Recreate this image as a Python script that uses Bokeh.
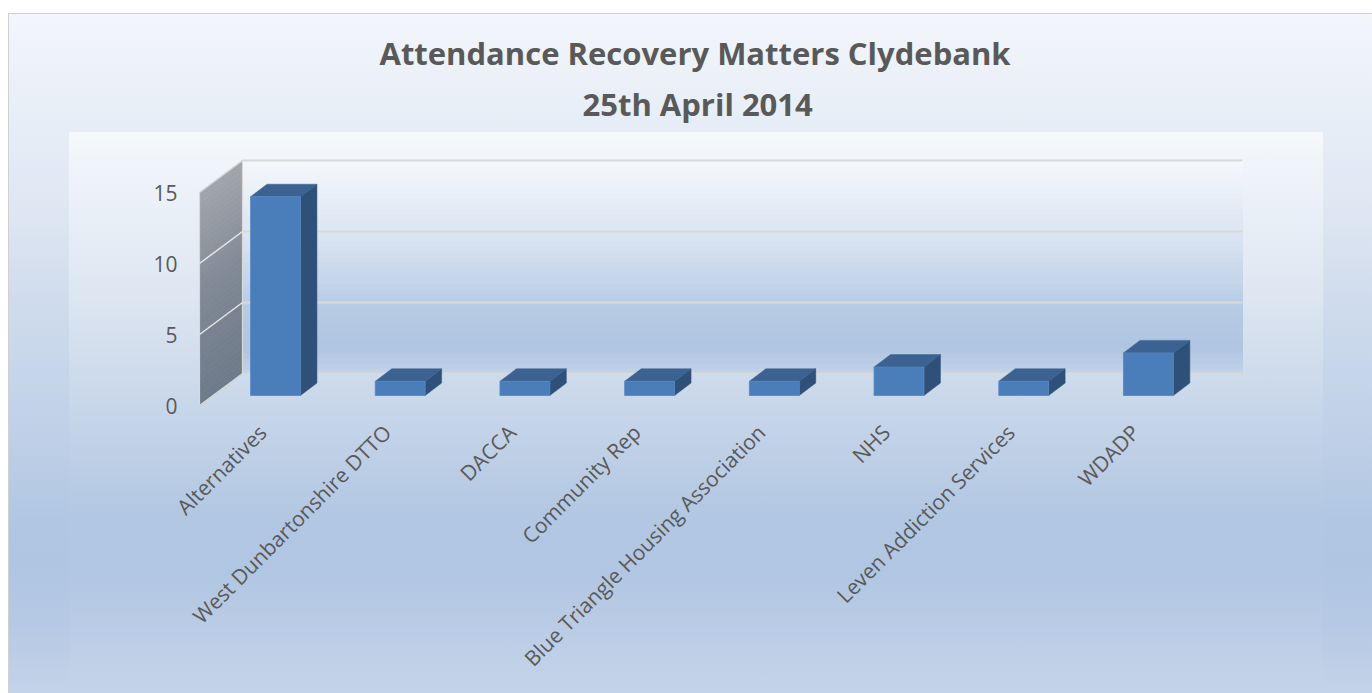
import numpy as np
from bokeh.plotting import figure
from bokeh.models import Range1d, LinearAxis, FixedTicker, Title
from bokeh.embed import file_html
from bokeh.resources import INLINE

# ---------------- data ----------------
categories = ["Alternatives", "West Dunbartonshire DTTO", "DACCA", "Community Rep",
              "Blue Triangle Housing Association", "NHS", "Leven Addiction Services", "WDADP"]
attendance = [14, 1, 1, 1, 1, 2, 1, 3]
y_ticks = [0, 5, 10, 15]
title_line1 = "Attendance Recovery Matters Clydebank"
title_line2 = "25th April 2014"

# ---------------- layout / style ----------------
W, H = 1364, 680
FL, FR, FT, FB = 177, 1315, 119, 399          # frame edges in canvas px
PX_CAT = 124.7                                 # px per category
PX_VAL = 14.2                                  # px per unit
X0_PX = 267                                    # canvas px of first category centre
BAR_BASE_PX = 382                              # canvas px of bar baseline
WALL_BASE_PX = 392                             # canvas px of wall front baseline
BAR_W = 0.4
BAR_DX, BAR_DY = 16.5 / PX_CAT, 12.5 / PX_VAL  # bar depth offsets (data units)
WALL_DX, WALL_DY = 43 / PX_CAT, 32 / PX_VAL    # wall depth offsets
WALL_XF = (191 - X0_PX) / PX_CAT               # wall front edge
WALL_XR = (1234 - X0_PX) / PX_CAT              # back wall right edge
WALL_TOP = 15
LABEL_SHIFT = -13 / PX_CAT                     # category label anchor shift

TXT = "#595959"
FONT = "Open Sans"

x_range = Range1d((FL - X0_PX) / PX_CAT, (FR - X0_PX) / PX_CAT)
y_range = Range1d((BAR_BASE_PX - FB) / PX_VAL, (BAR_BASE_PX - FT) / PX_VAL)
wall_range = Range1d((WALL_BASE_PX - FB) / PX_VAL, (WALL_BASE_PX - FT) / PX_VAL)

p = figure(width=W, height=H, output_backend="svg", toolbar_location=None,
           x_range=x_range, y_range=y_range, y_axis_location=None, title=None,
           min_border_left=FL, min_border_right=W - FR,
           min_border_top=FT, min_border_bottom=H - FB)
p.extra_y_ranges = {"wall": wall_range}

border = ("linear-gradient(#d0d0d0, #d0d0d0) 0 0 / 100% 1px no-repeat, "
          "linear-gradient(#d0d0d0, #d0d0d0) 0 0 / 1px 100% no-repeat")
outer_grad = ("linear-gradient(to bottom, #f3f6fb 0%, #e9eff7 13%, #dfe7f3 28%, #d0dcec 42%, "
              "#c5d5ea 54%, #bccee6 65%, #b0c6e2 75%, #afc5e2 81%, #b6c9e4 90%, #c3d3e8 100%)")
plot_grad = ("linear-gradient(to bottom, #f5f8fc 0%, #dde6f1 30%, #c9d7ea 49%, #b2c7e2 70%, "
             "#b1c6e2 80%, #c3d2e8 100%) 61px 119px / 1254px 550px no-repeat")
p.styles = {"background": border + ", " + plot_grad + ", " + outer_grad,
            "margin-top": "13px", "margin-left": "8px"}
p.background_fill_alpha = 0
p.border_fill_alpha = 0
p.outline_line_color = None
p.grid.visible = False

def hex2rgb(h):
    h = h.lstrip("#")
    return np.array([int(h[i:i + 2], 16) for i in (0, 2, 4)], dtype=float)

def interp_color(stops, t):
    pos = [s[0] for s in stops]
    cols = [hex2rgb(s[1]) for s in stops]
    c = np.array([np.interp(t, pos, [cc[k] for cc in cols]) for k in range(3)])
    return "#%02x%02x%02x" % tuple(int(round(v)) for v in c)

# ---------------- back wall ----------------
N = 40
wall_x_back = WALL_XF + WALL_DX
back_stops = [(0, "#c2d3e8"), (0.12, "#b0c5e1"), (0.3, "#b6cae4"), (0.6, "#d6e1f0"), (1.0, "#f5f8fc")]
edges = np.linspace(0, WALL_TOP, N + 1)
back_cols = [interp_color(back_stops, (e0 + e1) / 2 / WALL_TOP) for e0, e1 in zip(edges[:-1], edges[1:])]
p.quad(left=wall_x_back, right=WALL_XR,
       bottom=list(edges[:-1] + WALL_DY), top=list(edges[1:] + WALL_DY),
       fill_color=back_cols, line_color=back_cols, line_width=1, y_range_name="wall")

# back wall gridlines
p.segment(x0=wall_x_back, x1=WALL_XR, y0=[t + WALL_DY for t in y_ticks], y1=[t + WALL_DY for t in y_ticks],
          line_color="#d9d9d9", line_width=2, y_range_name="wall")

# ---------------- side wall ----------------
side_stops = [(0, "#6e7a89"), (0.5, "#7f8895"), (1.0, "#a2a6ab")]
xs, ys, cols = [], [], []
for e0, e1 in zip(edges[:-1], edges[1:]):
    xs.append([WALL_XF, WALL_XF, wall_x_back, wall_x_back])
    ys.append([e0, e1, e1 + WALL_DY, e0 + WALL_DY])
    cols.append(interp_color(side_stops, (e0 + e1) / 2 / WALL_TOP))
p.patches(xs, ys, fill_color=cols, line_color=cols, line_width=0.8, y_range_name="wall")
p.patch([WALL_XF, WALL_XF, wall_x_back, wall_x_back], [0, WALL_TOP, WALL_TOP + WALL_DY, WALL_DY],
        fill_alpha=0, line_color="#d9d9d9", line_width=1.2, y_range_name="wall")
p.segment(x0=WALL_XF, x1=wall_x_back, y0=y_ticks[1:-1], y1=[t + WALL_DY for t in y_ticks[1:-1]],
          line_color="#e6e6e6", line_width=1.5, y_range_name="wall")

# ---------------- bars ----------------
xi = np.arange(len(categories))
FRONT, TOP, SIDE = "#4a7ebb", "#3b6290", "#2f5079"
top_xs = [[x - BAR_W / 2, x + BAR_W / 2, x + BAR_W / 2 + BAR_DX, x - BAR_W / 2 + BAR_DX] for x in xi]
top_ys = [[v, v, v + BAR_DY, v + BAR_DY] for v in attendance]
side_xs = [[x + BAR_W / 2, x + BAR_W / 2, x + BAR_W / 2 + BAR_DX, x + BAR_W / 2 + BAR_DX] for x in xi]
side_ys = [[0, v, v + BAR_DY, BAR_DY] for v in attendance]
p.patches(side_xs, side_ys, fill_color=SIDE, line_color=SIDE, line_width=0.5)
p.patches(top_xs, top_ys, fill_color=TOP, line_color=TOP, line_width=0.5)
p.vbar(x=list(xi), width=BAR_W, top=attendance, bottom=0, fill_color=FRONT, line_color="#5586c2", line_width=0.8)

# ---------------- axes ----------------
tick_pos = [float(i) + LABEL_SHIFT for i in xi]
xa = p.xaxis[0]
xa.ticker = FixedTicker(ticks=tick_pos)
xa.major_label_overrides = {t: c for t, c in zip(tick_pos, categories)}
xa.major_label_orientation = np.pi / 4
xa.axis_line_color = None
xa.major_tick_line_color = None
xa.minor_tick_line_color = None
xa.major_tick_out = 0
xa.major_tick_in = 0
xa.major_label_text_font = FONT
xa.major_label_text_font_size = "21px"
xa.major_label_text_color = TXT
xa.major_label_standoff = 16

ya = LinearAxis(y_range_name="wall", ticker=FixedTicker(ticks=y_ticks))
ya.axis_line_color = None
ya.major_tick_line_color = None
ya.minor_tick_line_color = None
ya.major_tick_out = 0
ya.major_tick_in = 0
ya.major_label_text_font = FONT
ya.major_label_text_font_size = "21px"
ya.major_label_text_color = TXT
ya.major_label_standoff = 8
p.add_layout(ya, "left")

# ---------------- titles ----------------
p.add_layout(Title(text=title_line2, align="left", offset=397, standoff=16, text_font=FONT,
                   text_font_style="bold", text_font_size="31px", text_color=TXT), "above")
p.add_layout(Title(text=title_line1, align="left", offset=194, standoff=-3, text_font=FONT,
                   text_font_style="bold", text_font_size="31px", text_color=TXT), "above")

open("out.html", "w").write(file_html(p, INLINE))
